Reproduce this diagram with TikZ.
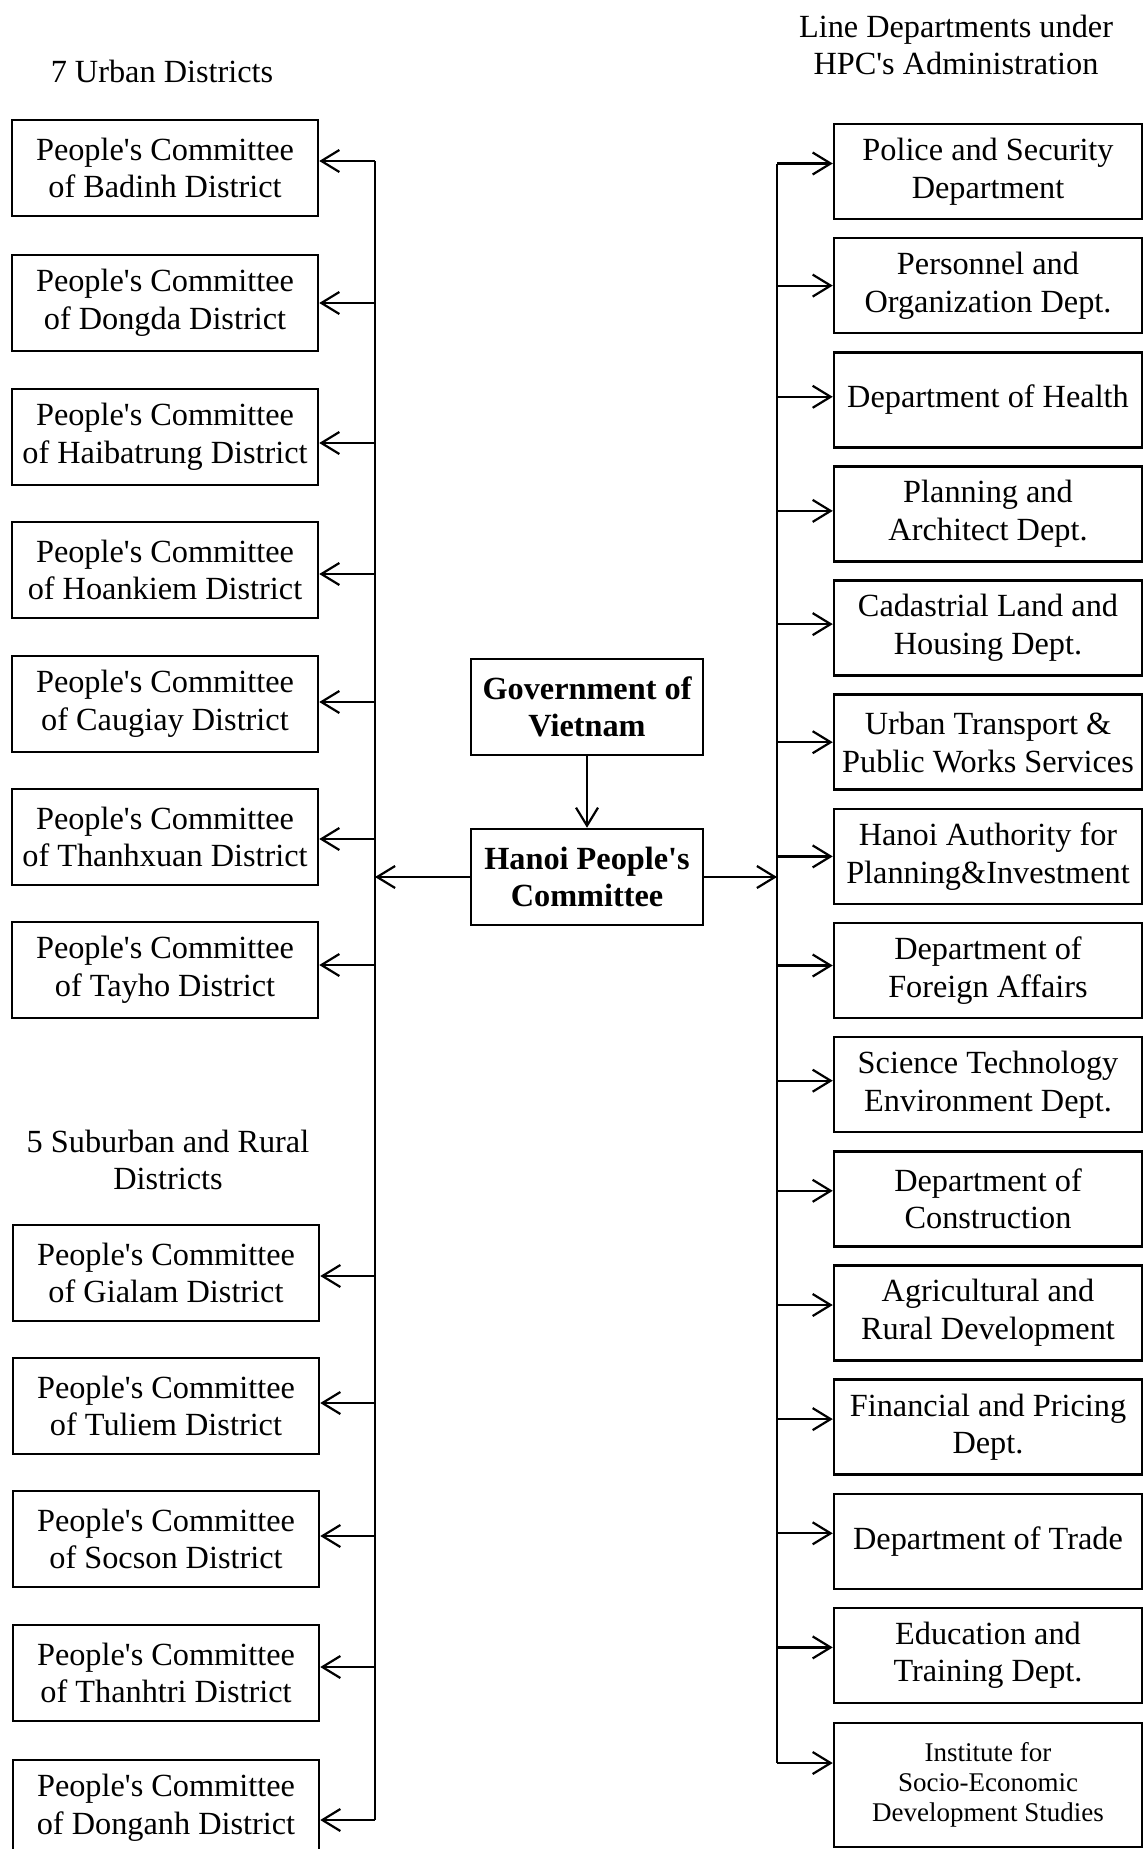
\documentclass[tikz,border=0pt]{standalone}
\usepackage{fontspec}
\setmainfont{Liberation Serif}[Ligatures=TeXOff]
\usetikzlibrary{arrows.meta}

\begin{document}
\begin{tikzpicture}[x=1pt, y=-1pt,
  >={Straight Barb[length=18pt,width=22pt]},
  every node/.style = {align=center, font=\fontsize{32.3}{37.7}\selectfont},
  district/.style = {shape=rectangle, draw, line width=2.5pt,
    minimum width=306pt, minimum height=96pt, inner sep=0pt},
  dept/.style = {shape=rectangle, draw, line width=2.5pt,
    minimum width=308pt, minimum height=95pt, inner sep=0pt},
  hpc/.style = {district, minimum width=232pt,
    font=\fontsize{32.3}{37.7}\selectfont\bfseries},
  link/.style = {->, line width=2.2pt}]
  \useasboundingbox (0,0) rectangle (1144,1849);

  % headings
  \node (urbanhead) at (162,71) {7 Urban Districts};
  \node (ruralhead) at (168,1160) {5 Suburban and Rural\\Districts};
  \node (depthead) at (956,45) {Line Departments under\\HPC's Administration};

  % government and HPC
  \node[hpc] (gov) at (587,707) {Government of\\Vietnam};
  \node[hpc] (hanoi) at (587,877) {Hanoi People's\\Committee};

  % urban districts
  \node[district] (badinh) at (165,168) {People's Committee\\of Badinh District};
  \node[district] (dongda) at (165,303) {People's Committee\\of Dongda District};
  \node[district] (haibatrung) at (165,437) {People's Committee\\of Haibatrung District};
  \node[district] (hoankiem) at (165,570) {People's Committee\\of Hoankiem District};
  \node[district] (caugiay) at (165,704) {People's Committee\\of Caugiay District};
  \node[district] (thanhxuan) at (165,837) {People's Committee\\of Thanhxuan District};
  \node[district] (tayho) at (165,970) {People's Committee\\of Tayho District};

  % suburban and rural districts
  \node[district] (gialam) at (166,1273) {People's Committee\\of Gialam District};
  \node[district] (tuliem) at (166,1406) {People's Committee\\of Tuliem District};
  \node[district] (socson) at (166,1539) {People's Committee\\of Socson District};
  \node[district] (thanhtri) at (166,1673) {People's Committee\\of Thanhtri District};
  \node[district] (donganh) at (166,1808) {People's Committee\\of Donganh District};

  % line departments
  \node[dept] (police) at (988,171.5) {Police and Security\\Department};
  \node[dept] (personnel) at (988,285.6) {Personnel and\\Organization Dept.};
  \node[dept] (health) at (988,399.8) {Department of Health};
  \node[dept] (planning) at (988,513.9) {Planning and\\Architect Dept.};
  \node[dept] (cadastral) at (988,628.1) {Cadastrial Land and\\Housing Dept.};
  \node[dept] (transport) at (988,742.2) {Urban Transport \&\\Public Works Services};
  \node[dept] (authority) at (988,856.4) {Hanoi Authority for\\Planning\&Investment};
  \node[dept] (foreign) at (988,970.5) {Department of\\Foreign Affairs};
  \node[dept] (science) at (988,1084.7) {Science Technology\\Environment Dept.};
  \node[dept] (construction) at (988,1198.8) {Department of\\Construction};
  \node[dept] (agri) at (988,1313) {Agricultural and\\Rural Development};
  \node[dept] (finance) at (988,1427.1) {Financial and Pricing\\Dept.};
  \node[dept] (trade) at (988,1541.3) {Department of Trade};
  \node[dept] (education) at (988,1655.4) {Education and\\Training Dept.};
  \node[dept, minimum height=124pt, font=\fontsize{27}{30}\selectfont]
    (institute) at (988,1785) {Institute for\\Socio-Economic\\Development Studies};

  % buses and arrow ends
  \coordinate (lbus) at (375,877);
  \coordinate (rbus) at (777,877);
  \coordinate (badinhin) at ([yshift=7pt]badinh.east);
  \coordinate (dongdain) at (dongda.east);
  \coordinate (haibatrungin) at ([yshift=-6pt]haibatrung.east);
  \coordinate (hoankiemin) at ([yshift=-4pt]hoankiem.east);
  \coordinate (caugiayin) at ([yshift=2pt]caugiay.east);
  \coordinate (thanhxuanin) at ([yshift=-2pt]thanhxuan.east);
  \coordinate (tayhoin) at ([yshift=5pt]tayho.east);
  \coordinate (gialamin) at ([yshift=-3pt]gialam.east);
  \coordinate (tuliemin) at ([yshift=3pt]tuliem.east);
  \coordinate (socsonin) at ([yshift=3pt]socson.east);
  \coordinate (thanhtriin) at ([yshift=6pt]thanhtri.east);
  \coordinate (donganhin) at ([yshift=-12pt]donganh.east);
  \coordinate (policein) at ([yshift=8pt]police.west);
  \coordinate (personnelin) at (personnel.west);
  \coordinate (healthin) at ([yshift=3pt]health.west);
  \coordinate (planningin) at ([yshift=3pt]planning.west);
  \coordinate (cadastralin) at ([yshift=4pt]cadastral.west);
  \coordinate (transportin) at (transport.west);
  \coordinate (authorityin) at (authority.west);
  \coordinate (foreignin) at ([yshift=5pt]foreign.west);
  \coordinate (sciencein) at ([yshift=4pt]science.west);
  \coordinate (constructionin) at ([yshift=8pt]construction.west);
  \coordinate (agriin) at ([yshift=8pt]agri.west);
  \coordinate (financein) at ([yshift=8pt]finance.west);
  \coordinate (tradein) at ([yshift=8pt]trade.west);
  \coordinate (educationin) at ([yshift=8pt]education.west);
  \coordinate (institutein) at ([yshift=22pt]institute.west);

  \draw[link] (gov) -- (hanoi);
  \draw[link] (hanoi) -- (lbus);
  \draw[link] (hanoi) -- (rbus);
  \draw[line width=2.2pt] (lbus |- badinhin) -- (lbus |- donganhin);
  \draw[line width=2.2pt] (rbus |- policein) -- (rbus |- institutein);

  % left arrows
  \draw[link] (lbus |- badinhin) -- (badinhin);
  \draw[link] (lbus |- dongdain) -- (dongdain);
  \draw[link] (lbus |- haibatrungin) -- (haibatrungin);
  \draw[link] (lbus |- hoankiemin) -- (hoankiemin);
  \draw[link] (lbus |- caugiayin) -- (caugiayin);
  \draw[link] (lbus |- thanhxuanin) -- (thanhxuanin);
  \draw[link] (lbus |- tayhoin) -- (tayhoin);
  \draw[link] (lbus |- gialamin) -- (gialamin);
  \draw[link] (lbus |- tuliemin) -- (tuliemin);
  \draw[link] (lbus |- socsonin) -- (socsonin);
  \draw[link] (lbus |- thanhtriin) -- (thanhtriin);
  \draw[link] (lbus |- donganhin) -- (donganhin);

  % right arrows
  \draw[link] (rbus |- policein) -- (policein);
  \draw[link] (rbus |- personnelin) -- (personnelin);
  \draw[link] (rbus |- healthin) -- (healthin);
  \draw[link] (rbus |- planningin) -- (planningin);
  \draw[link] (rbus |- cadastralin) -- (cadastralin);
  \draw[link] (rbus |- transportin) -- (transportin);
  \draw[link] (rbus |- authorityin) -- (authorityin);
  \draw[link] (rbus |- foreignin) -- (foreignin);
  \draw[link] (rbus |- sciencein) -- (sciencein);
  \draw[link] (rbus |- constructionin) -- (constructionin);
  \draw[link] (rbus |- agriin) -- (agriin);
  \draw[link] (rbus |- financein) -- (financein);
  \draw[link] (rbus |- tradein) -- (tradein);
  \draw[link] (rbus |- educationin) -- (educationin);
  \draw[link] (rbus |- institutein) -- (institutein);
\end{tikzpicture}
\end{document}
